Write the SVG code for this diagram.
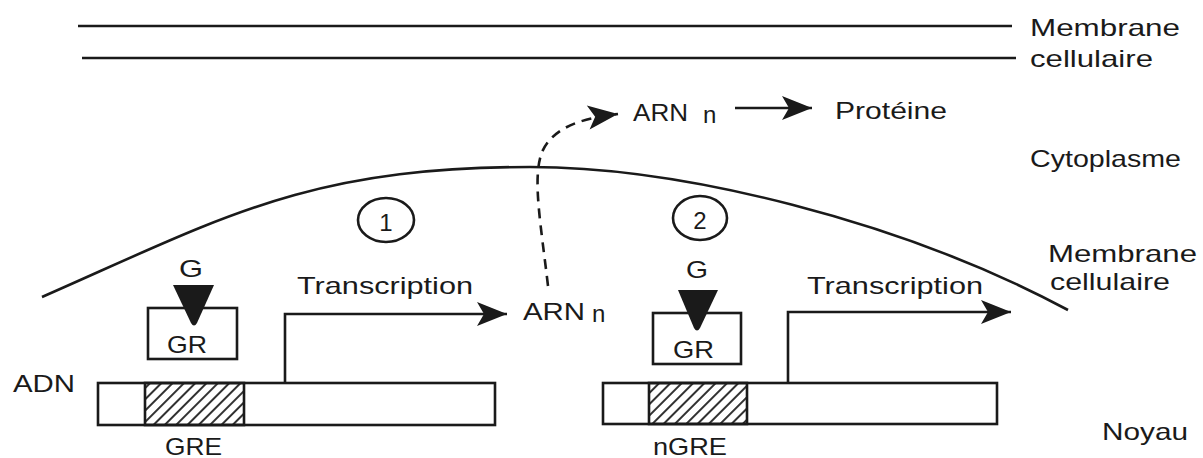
<svg xmlns="http://www.w3.org/2000/svg" width="1203" height="458" viewBox="0 0 1203 458">
<style>
text{font-family:"Liberation Sans",Arial,sans-serif;fill:#1a1a1a;font-size:24px}
.ln{stroke:#1a1a1a;fill:none;stroke-width:2.6}
.box{stroke:#1a1a1a;fill:#fff;stroke-width:2.6}
.tri{fill:#1a1a1a}
</style>
<defs>
<pattern id="hatch" patternUnits="userSpaceOnUse" width="8" height="8" patternTransform="rotate(45)">
<line x1="1" y1="0" x2="1" y2="8" stroke="#1a1a1a" stroke-width="1.8"/>
</pattern>
<marker id="ah" markerUnits="userSpaceOnUse" markerWidth="32" markerHeight="24" refX="30" refY="12" orient="auto" overflow="visible">
<path d="M0,0 L30,12 L0,24 L7,12 z" fill="#1a1a1a"/>
</marker>
</defs>

<g id="membrane-cellulaire">
<line class="ln" x1="78" y1="26" x2="1012" y2="26" stroke-width="3"/>
<line class="ln" x1="82" y1="58" x2="1016" y2="58" stroke-width="3"/>
<text x="1030" y="36" textLength="150" lengthAdjust="spacingAndGlyphs">Membrane</text>
<text x="1030" y="67" textLength="123" lengthAdjust="spacingAndGlyphs">cellulaire</text>
</g>

<g id="membrane-nucleaire">
<path class="ln" d="M42,297 C222,218 307,167 530,167 C680,167 900,220 1068,310"/>
<text x="1048" y="262" textLength="149" lengthAdjust="spacingAndGlyphs">Membrane</text>
<text x="1050" y="290" textLength="120" lengthAdjust="spacingAndGlyphs">cellulaire</text>
</g>

<g id="labels">
<text x="1030" y="167" textLength="151" lengthAdjust="spacingAndGlyphs">Cytoplasme</text>
<text x="1102" y="440" textLength="86" lengthAdjust="spacingAndGlyphs">Noyau</text>
<text x="13" y="392" textLength="62" lengthAdjust="spacingAndGlyphs">ADN</text>
</g>

<g id="arn-cyto">
<text x="633" y="121" font-size="25" textLength="55" lengthAdjust="spacingAndGlyphs">ARN</text>
<text x="703" y="123" font-size="21">n</text>
</g>
<g id="proteine">
<text x="835" y="119" textLength="112" lengthAdjust="spacingAndGlyphs">Protéine</text>
</g>

<g id="site1">
<ellipse class="ln" cx="386" cy="220" rx="28" ry="22" stroke-width="2"/>
<text x="386" y="231" font-size="29" text-anchor="middle">1</text>
<text x="179" y="277" textLength="24" lengthAdjust="spacingAndGlyphs">G</text>
<rect class="box" x="148" y="308" width="89" height="51"/>
<path class="tri" d="M173,285 L214,285 L197,323 Q194,328 191,323 z"/>
<text x="167" y="353" textLength="40" lengthAdjust="spacingAndGlyphs">GR</text>
<rect class="box" x="98" y="383" width="397" height="42"/>
<rect x="145" y="383" width="99" height="42" fill="url(#hatch)" stroke="#1a1a1a" stroke-width="2.6"/>
<text x="165" y="455" textLength="57" lengthAdjust="spacingAndGlyphs">GRE</text>
<text x="297" y="294" textLength="176" lengthAdjust="spacingAndGlyphs">Transcription</text>
</g>

<g id="arn-noyau">
<text x="523" y="320" font-size="25" textLength="62" lengthAdjust="spacingAndGlyphs">ARN</text>
<text x="592" y="322" font-size="21">n</text>
</g>

<g id="site2">
<ellipse class="ln" cx="700" cy="218" rx="27" ry="22" stroke-width="2"/>
<text x="700" y="229" font-size="29" text-anchor="middle">2</text>
<text x="686" y="278" textLength="22" lengthAdjust="spacingAndGlyphs">G</text>
<rect class="box" x="653" y="313" width="88" height="51"/>
<path class="tri" d="M678,290 L718,290 L700,328 Q697,333 694,328 z"/>
<text x="673" y="358" textLength="41" lengthAdjust="spacingAndGlyphs">GR</text>
<rect class="box" x="603" y="383" width="394" height="41"/>
<rect x="649" y="383" width="98" height="41" fill="url(#hatch)" stroke="#1a1a1a" stroke-width="2.6"/>
<text x="653" y="455" textLength="74" lengthAdjust="spacingAndGlyphs">nGRE</text>
<text x="807" y="294" textLength="176" lengthAdjust="spacingAndGlyphs">Transcription</text>
</g>

<g id="connecteurs">
<path class="ln" d="M285,383 L285,314 L507,314" marker-end="url(#ah)"/>
<path class="ln" d="M788,383 L788,312 L1011,312" marker-end="url(#ah)"/>
<path class="ln" d="M735,108 L812,108" marker-end="url(#ah)"/>
<path class="ln" d="M548,286 C541,225 532,178 542,152 C552,130 575,119 618,114" stroke-dasharray="10,7" stroke-width="3" marker-end="url(#ah)"/>
</g>
</svg>
